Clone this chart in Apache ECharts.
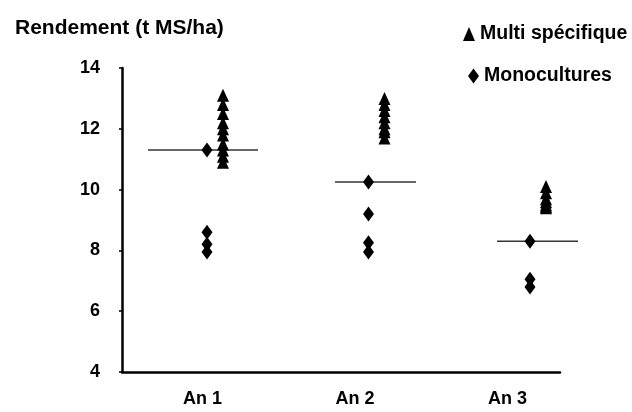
<!DOCTYPE html>
<html>
<head>
<meta charset="utf-8">
<script src="https://cdn.jsdelivr.net/npm/echarts@6/dist/echarts.min.js"></script>
<style>
html,body{margin:0;padding:0;background:#fff;}
#c{width:632px;height:412px;}
</style>
</head>
<body>
<div id="c"></div>
<script>
// ---- data ----
var categories = ['An 1', 'An 2', 'An 3'];
var multiSpecifique = [
  [13.1, 12.8, 12.5, 12.2, 12.0, 11.8, 11.5, 11.3, 11.1, 10.9],
  [13.0, 12.8, 12.6, 12.4, 12.2, 12.0, 11.9, 11.7],
  [10.1, 9.9, 9.7, 9.6, 9.5, 9.45, 9.4]
];
var monocultures = [
  [11.3, 8.6, 8.2, 7.95],
  [10.25, 9.2, 8.25, 7.95],
  [8.3, 7.05, 6.8]
];
var refLine = [11.3, 10.25, 8.3];
var yTicks = [4, 6, 8, 10, 12, 14];

// ---- build series data ----
function pts(groups) {
  var out = [];
  groups.forEach(function (g, i) {
    g.forEach(function (v) { out.push([i + 1, v]); });
  });
  return out;
}
var lineStyle = [
  { w: 110, dx: -4 },
  { w: 81, dx: 7 },
  { w: 81, dx: 7.5 }
];
var refData = refLine.map(function (v, i) {
  return {
    value: [i + 1, v],
    symbolSize: [lineStyle[i].w, 1.5],
    symbolOffset: [lineStyle[i].dx, 0]
  };
});

var font = '"Liberation Sans", Arial, sans-serif';
var chart = echarts.init(document.getElementById('c'), null, { renderer: 'canvas' });
chart.setOption({
  animation: false,
  backgroundColor: '#fff',
  title: {
    text: 'Rendement (t MS/ha)',
    left: 10, top: 13,
    textStyle: { fontFamily: font, fontWeight: 'bold', fontSize: 21, color: '#000' }
  },
  legend: [{
    data: [{ name: 'Multi spécifique', icon: 'triangle' }],
    left: 458, top: 19,
    itemWidth: 12, itemHeight: 14, itemGap: 5,
    textStyle: { fontFamily: font, fontWeight: 'bold', fontSize: 19.5, color: '#000' }
  }, {
    data: [{ name: 'Monocultures', icon: 'diamond' }],
    left: 463, top: 61,
    itemWidth: 11, itemHeight: 15, itemGap: 5,
    textStyle: { fontFamily: font, fontWeight: 'bold', fontSize: 19.5, color: '#000' }
  }],
  grid: { left: 122, right: 72, top: 68, bottom: 40, containLabel: false },
  xAxis: [{
    type: 'value',
    min: 0.472, max: 3.344,
    position: 'bottom',
    axisLine: { show: true, onZero: false, lineStyle: { color: '#000', width: 2.5 } },
    axisTick: { show: false },
    splitLine: { show: false },
    axisLabel: {
      customValues: [1, 2, 3],
      formatter: function (v) { return categories[Math.round(v) - 1] || ''; },
      margin: 18,
      fontFamily: font, fontWeight: 'bold', fontSize: 18, color: '#000'
    }
  }, {
    type: 'value',
    min: 0.4737, max: 3.1858,
    show: false
  }],
  yAxis: {
    type: 'value',
    min: 4, max: 14, interval: 2,
    axisLine: { show: true, lineStyle: { color: '#000', width: 2.5 } },
    axisTick: { show: true, length: 3, lineStyle: { color: '#000', width: 1.5 } },
    splitLine: { show: false },
    axisLabel: {
      margin: 22,
      formatter: function (v) { return yTicks.indexOf(v) >= 0 ? String(v) : ''; },
      fontFamily: font, fontWeight: 'bold', fontSize: 18, color: '#000'
    }
  },
  series: [{
    name: 'Référence',
    type: 'scatter',
    xAxisIndex: 1,
    symbol: 'rect',
    silent: true,
    z: 1,
    itemStyle: { color: '#000' },
    data: refData
  }, {
    name: 'Multi spécifique',
    type: 'scatter',
    xAxisIndex: 1,
    symbol: 'triangle',
    symbolSize: [12, 13],
    symbolOffset: [16, 0],
    z: 3,
    itemStyle: { color: '#000', opacity: 1 },
    data: pts(multiSpecifique)
  }, {
    name: 'Monocultures',
    type: 'scatter',
    xAxisIndex: 1,
    symbol: 'diamond',
    symbolSize: [11, 15],
    z: 3,
    itemStyle: { color: '#000', opacity: 1 },
    data: pts(monocultures)
  }]
});
</script>
</body>
</html>
